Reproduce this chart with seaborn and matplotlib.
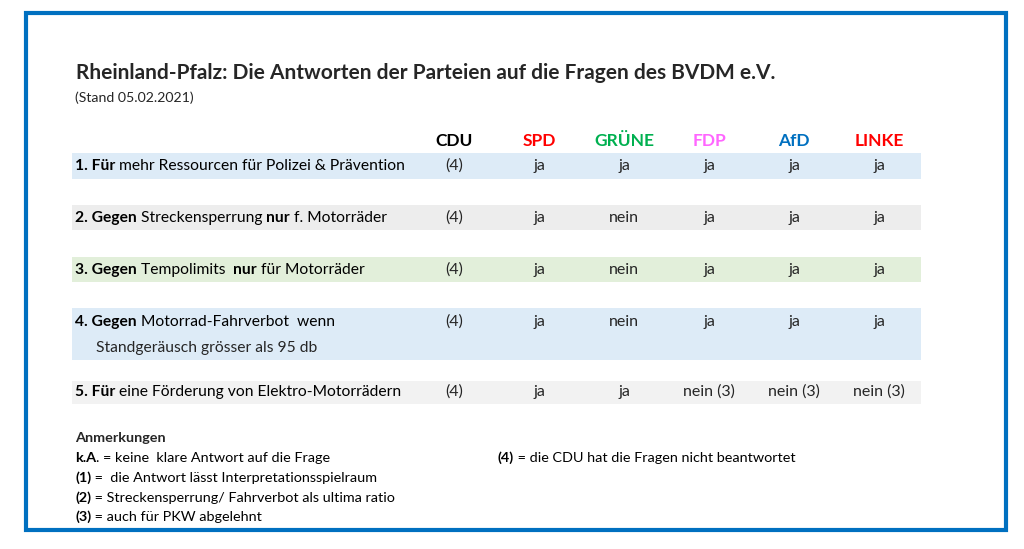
import matplotlib
matplotlib.use("Agg")
import matplotlib.pyplot as plt
import seaborn as sns
from matplotlib.patches import Rectangle

# Daten der Tabelle
titel = "Rheinland-Pfalz: Die Antworten der Parteien auf die Fragen des BVDM e.V."
stand = "(Stand 05.02.2021)"
parteien = ["CDU", "SPD", "GRÜNE", "FDP", "AfD", "LINKE"]
farben = ["#000000", "#FF0000", "#00B050", "#FF66FF", "#0070C0", "#FF0000"]
fragen = [
    [("1. Für", True), (" mehr Ressourcen für Polizei & Prävention", False)],
    [("2. Gegen", True), (" Streckensperrung ", False), ("nur", True), (" f. Motorräder", False)],
    [("3. Gegen", True), (" Tempolimits  ", False), ("nur", True), (" für Motorräder", False)],
    [("4. Gegen", True), (" Motorrad-Fahrverbot  wenn", False)],
    [("5. Für", True), (" eine Förderung von Elektro-Motorrädern", False)],
]
frage4_zeile2 = "Standgeräusch grösser als 95 db"
antworten = [
    ["(4)", "ja", "ja", "ja", "ja", "ja"],
    ["(4)", "ja", "nein", "ja", "ja", "ja"],
    ["(4)", "ja", "nein", "ja", "ja", "ja"],
    ["(4)", "ja", "nein", "ja", "ja", "ja"],
    ["(4)", "ja", "ja", "nein (3)", "nein (3)", "nein (3)"],
]
anmerkungen = [
    [("k.A", True), (". = keine  klare Antwort auf die Frage", False)],
    [("(1)", True), (" =  die Antwort lässt Interpretationsspielraum", False)],
    [("(2)", True), (" = Streckensperrung/ Fahrverbot als ultima ratio", False)],
    [("(3)", True), (" = auch für PKW abgelehnt", False)],
]
anmerkung4 = [("(4)", True), (" = die CDU hat die Fragen nicht beantwortet", False)]

sns.set_theme(style="white")
plt.rcParams['font.family'] = ['Lato', 'DejaVu Sans']

fig = plt.figure(figsize=(10.24, 5.49), dpi=100)
ax = fig.add_axes([0, 0, 1, 1])
ax.set_xlim(0, 1024)
ax.set_ylim(549, 0)
ax.axis("off")
renderer = fig.canvas.get_renderer()


def runs(x, y, teile, size):
    for s, fett in teile:
        t = ax.text(x, y, s, fontsize=size, fontweight="bold" if fett else "normal",
                    va="center", ha="left", color="black")
        bb = t.get_window_extent(renderer)
        x = ax.transData.inverted().transform((bb.x1, bb.y0))[0]


# Rahmen
ax.add_patch(Rectangle((26, 13), 980, 517, fill=False, edgecolor="#0070C0", lw=3))

# Zeilenhintergrund
baender = [(153, 179, "#DDEBF7"), (205, 230, "#EDEDED"), (257, 282, "#E2EFDA"),
           (308, 360, "#DDEBF7"), (381, 404, "#F2F2F2")]
for oben, unten, c in baender:
    ax.barh((oben + unten) / 2, 849, left=72, height=unten - oben, color=c, lw=0)

ax.text(76, 73, titel, fontsize=15, fontweight="bold", va="center")
ax.text(75, 98, stand, fontsize=10.2, va="center")

spalten_x = [454 + 85 * i for i in range(len(parteien))]
for xs, p, c in zip(spalten_x, parteien, farben):
    ax.text(xs, 141, p, fontsize=12.5, fontweight="bold", color=c, ha="center", va="center")

zeilen_y = [166, 218, 270, 322, 392]
for yz, frage, antw in zip(zeilen_y, fragen, antworten):
    runs(75, yz, frage, 11.25)
    for xs, a in zip(spalten_x, antw):
        ax.text(xs, yz, a, fontsize=11.5, ha="center", va="center")
ax.text(96, 348, frage4_zeile2, fontsize=11.25, va="center")

ax.text(75, 438, "Anmerkungen", fontsize=10.4, fontweight="bold", va="center")
for yz, a in zip([458, 478, 498, 517], anmerkungen):
    runs(75, yz, a, 10.4)
runs(498, 458, anmerkung4, 10.4)

fig.savefig("out.png", dpi=100)
